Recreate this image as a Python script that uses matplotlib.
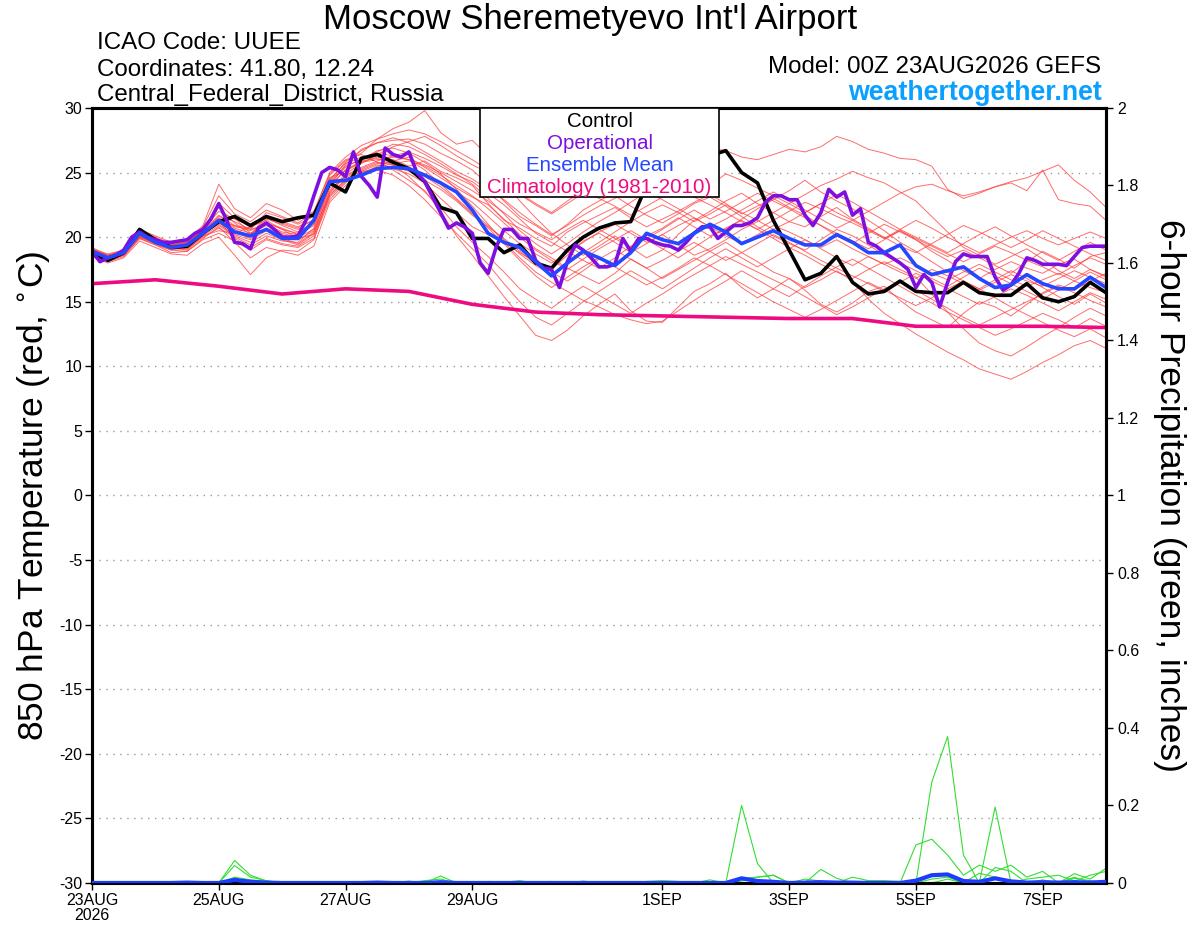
import matplotlib
matplotlib.use("Agg")
import matplotlib.pyplot as plt
from matplotlib.patches import Rectangle
import numpy as np

plt.rcParams["font.family"] = ["Liberation Sans", "DejaVu Sans"]
plt.rcParams["axes.unicode_minus"] = False

# ---- data: 6-hourly steps from 00Z 23AUG2026 (65 steps, 16 days) ----
tick_steps = [0, 8, 16, 24, 36, 44, 52, 60]
tick_labels = ["23AUG\n2026", "25AUG", "27AUG", "29AUG", "1SEP", "3SEP", "5SEP", "7SEP"]

control = [18.8, 18.2, 18.8, 20.6, 19.8, 19.2, 19.3, 20.3, 21.2, 21.6, 20.9, 21.6,
           21.2, 21.5, 21.7, 24.2, 23.5, 26.1, 26.4, 25.8, 25.3, 24.3, 22.3, 21.9,
           19.9, 19.9, 18.8, 19.4, 18.0, 17.6, 19.0, 20.0, 20.7, 21.1, 21.2, 24.0,
           25.0, 25.5, 26.0, 26.3, 26.7, 25.0, 24.2, 21.3, 19.0, 16.7, 17.2, 18.5,
           16.5, 15.6, 15.8, 16.6, 15.8, 15.7, 15.7, 16.5, 15.7, 15.5, 15.5, 16.4,
           15.3, 15.0, 15.4, 16.5, 15.7]

ens_mean = [18.9, 18.4, 18.8, 20.3, 19.6, 19.2, 19.4, 20.3, 21.3, 20.4, 20.1, 20.6,
            19.9, 19.9, 21.3, 24.3, 24.4, 24.8, 25.3, 25.4, 25.3, 24.8, 24.2, 23.5,
            22.1, 20.3, 19.6, 19.2, 18.1, 17.0, 18.0, 18.9, 18.4, 17.8, 18.8, 20.3,
            19.8, 19.5, 20.3, 21.0, 20.4, 19.5, 20.0, 20.5, 19.9, 19.4, 19.4, 20.2,
            19.6, 18.8, 18.8, 19.4, 17.8, 17.1, 17.4, 17.7, 16.8, 16.1, 16.3, 17.1,
            16.4, 16.0, 16.0, 16.9, 16.1]

# operational run is 3-hourly (129 points)
operational = [18.9, 18.1, 18.4, 18.6, 19.0, 20.0, 20.4, 20.0, 19.8, 19.6, 19.6, 19.7,
               19.8, 20.3, 20.6, 21.4, 22.6, 21.3, 19.6, 19.5, 19.1, 20.7, 21.1, 20.6,
               20.0, 20.0, 20.1, 21.3, 23.2, 25.0, 25.4, 25.2, 24.7, 26.6, 24.7, 24.0,
               23.1, 26.9, 26.4, 26.2, 26.6, 25.0, 24.3, 23.1, 21.9, 20.7, 21.1, 20.8,
               20.3, 18.0, 17.2, 19.2, 20.6, 20.6, 19.9, 19.9, 18.2, 17.6, 17.5, 16.1,
               18.1, 19.4, 19.0, 18.4, 17.7, 17.7, 17.9, 19.9, 18.9, 19.9, 19.9, 19.6,
               19.4, 19.3, 19.0, 19.6, 20.3, 20.8, 20.8, 19.9, 20.4, 20.9, 20.9, 21.1,
               21.5, 22.7, 23.2, 23.2, 22.9, 22.9, 21.7, 20.9, 21.9, 23.7, 23.1, 23.5,
               21.7, 22.2, 19.6, 19.3, 18.8, 18.4, 18.0, 17.5, 16.1, 17.1, 16.5, 14.6,
               16.5, 18.1, 18.7, 18.5, 18.5, 18.5, 16.9, 15.9, 16.3, 17.2, 18.4, 18.2,
               17.9, 17.9, 17.9, 17.8, 18.5, 19.2, 19.3, 19.3, 19.3]

# climatology, one value per day
clim_steps = [0, 4, 8, 12, 16, 20, 24, 28, 32, 36, 40, 44, 48, 52, 56, 60, 64]
climatology = [16.4, 16.7, 16.2, 15.6, 16.0, 15.8, 14.8, 14.2, 14.0, 13.9, 13.8,
               13.7, 13.7, 13.1, 13.1, 13.1, 13.0]

members = [
    [18.9, 18.4, 18.7, 20.1, 19.5, 19.0, 19.3, 20.4, 21.6, 21.2, 20.6, 21.0, 20.4, 20.2, 20.9, 24.0,
     25.6, 26.8, 27.3, 27.5, 27.6, 27.2, 26.5, 25.9, 25.2, 24.1, 22.8, 21.6, 20.9, 20.1, 21.0, 22.1,
     22.8, 23.5, 24.0, 24.6, 25.1, 25.6, 26.3, 26.9, 26.7, 26.2, 26.0, 26.4, 26.8, 26.6, 27.0, 27.8,
     27.4, 26.8, 26.5, 26.1, 26.0, 25.5, 23.7, 23.0, 23.4, 23.9, 24.2, 23.6, 25.2, 22.9, 22.6, 22.4, 21.3],
    [19.2, 18.6, 18.9, 20.5, 19.9, 19.4, 19.6, 20.6, 22.3, 21.1, 20.2, 21.4, 21.0, 20.6, 21.4, 24.8,
     25.9, 26.5, 27.6, 28.4, 28.9, 29.8, 28.1, 27.2, 27.5, 26.3, 24.4, 22.8, 21.5, 20.3, 19.4, 18.6,
     19.3, 20.1, 19.2, 18.4, 19.0, 20.2, 21.3, 22.0, 22.8, 23.4, 22.6, 21.9, 21.2, 20.8, 21.6, 22.3,
     21.4, 20.7, 19.9, 20.5, 19.8, 18.9, 18.2, 17.4, 16.8, 17.5, 18.1, 17.6, 17.2, 17.9, 18.3, 17.5, 17.0],
    [18.6, 18.1, 18.5, 19.9, 19.4, 18.8, 18.9, 19.9, 20.8, 19.6, 18.4, 19.2, 18.9, 18.6, 19.3, 22.7,
     24.0, 25.1, 25.6, 25.2, 24.4, 23.6, 22.0, 20.1, 18.6, 17.0, 15.4, 13.9, 12.4, 12.0, 12.8, 13.9,
     14.8, 15.6, 14.3, 13.5, 13.4, 14.6, 15.8, 16.4, 17.2, 16.1, 15.3, 16.0, 16.8, 15.9, 14.8, 14.2,
     14.9, 15.8, 16.2, 15.1, 14.2, 13.6, 13.0, 14.1, 15.0, 14.6, 13.9, 14.8, 15.7, 16.3, 15.9, 16.6, 17.2],
    [19.0, 18.5, 18.9, 20.4, 19.8, 19.5, 19.6, 20.5, 21.2, 20.9, 20.7, 21.6, 21.1, 20.7, 21.8, 24.6,
     25.1, 25.8, 26.2, 26.0, 25.5, 25.9, 25.1, 24.6, 24.0, 22.6, 21.3, 20.7, 19.9, 19.3, 20.4, 21.1,
     21.7, 22.3, 21.5, 20.8, 21.4, 22.0, 22.7, 23.3, 22.6, 21.8, 22.4, 23.0, 22.3, 21.7, 20.9, 20.1,
     19.5, 20.3, 21.0, 20.4, 19.8, 19.1, 18.5, 19.0, 18.4, 17.8, 17.2, 18.1, 18.9, 18.3, 17.6, 18.5, 18.8],
    [18.7, 18.3, 18.8, 20.0, 19.6, 19.2, 19.0, 20.1, 20.5, 20.3, 20.8, 21.3, 20.6, 19.9, 20.2, 23.1,
     24.3, 24.9, 25.5, 25.9, 26.2, 25.4, 24.6, 23.8, 23.1, 22.5, 21.4, 20.2, 19.1, 18.4, 17.6, 17.0,
     16.4, 17.2, 18.3, 17.6, 16.8, 17.5, 18.2, 18.9, 19.6, 18.8, 18.1, 17.3, 16.8, 16.1, 16.7, 17.4,
     16.6, 15.2, 14.1, 13.3, 12.5, 11.8, 11.1, 10.5, 9.8, 9.4, 9.0, 9.6, 10.3, 10.9, 11.6, 12.0, 11.4],
    [19.1, 18.7, 19.0, 20.6, 20.1, 19.6, 19.8, 20.9, 24.1, 22.2, 21.5, 22.6, 22.1, 21.3, 22.0, 24.9,
     26.0, 26.4, 25.8, 25.3, 24.9, 24.2, 23.0, 21.9, 20.8, 20.2, 19.6, 18.8, 18.1, 17.5, 18.6, 19.7,
     20.3, 19.6, 18.8, 19.5, 20.2, 19.4, 18.6, 19.1, 19.8, 20.6, 21.2, 21.9, 22.6, 23.3, 24.0, 24.5,
     25.1, 24.6, 24.2, 23.5, 22.8, 21.6, 20.4, 19.2, 18.6, 17.9, 18.5, 19.1, 18.3, 17.4, 16.8, 17.5, 16.9],
    [18.5, 18.0, 18.4, 19.7, 19.2, 18.7, 18.6, 19.5, 20.0, 18.6, 17.1, 18.4, 19.0, 18.9, 19.8, 23.4,
     24.8, 25.4, 25.9, 26.3, 26.6, 26.1, 25.5, 24.8, 24.3, 23.4, 22.5, 21.4, 20.3, 19.6, 18.9, 18.2,
     17.6, 18.4, 19.3, 20.1, 20.7, 21.5, 20.8, 20.1, 20.6, 21.4, 22.2, 22.9, 23.6, 24.4, 23.5, 22.8,
     22.2, 21.3, 20.5, 19.6, 18.9, 18.1, 17.3, 16.6, 16.0, 16.7, 17.4, 16.8, 16.1, 15.4, 14.8, 15.6, 14.9],
    [18.8, 18.2, 18.6, 20.2, 19.7, 19.3, 19.2, 20.3, 21.0, 20.2, 19.8, 20.5, 19.9, 19.5, 20.4, 23.6,
     24.9, 25.7, 26.4, 27.0, 27.4, 27.8, 27.1, 26.3, 25.6, 25.0, 24.2, 23.3, 22.5, 21.8, 22.6, 23.4,
     24.0, 23.2, 22.4, 21.7, 21.1, 21.8, 22.6, 23.1, 22.4, 21.6, 20.8, 20.1, 19.5, 19.0, 19.8, 20.6,
     20.1, 19.4, 18.6, 18.0, 17.4, 16.8, 16.2, 16.9, 17.6, 17.0, 16.4, 15.8, 15.2, 15.9, 16.6, 17.3, 16.7],
    [18.7, 18.2, 18.6, 20.0, 19.5, 19.1, 19.1, 20.0, 20.7, 20.0, 19.4, 20.1, 19.7, 19.6, 20.7, 23.9,
     25.2, 25.9, 26.1, 25.6, 24.7, 23.5, 22.3, 20.8, 19.6, 18.5, 17.3, 16.0, 15.2, 14.5, 15.4, 16.2,
     15.5, 14.8, 14.1, 14.9, 15.6, 16.4, 17.1, 17.8, 18.5, 17.9, 17.3, 16.7, 16.1, 15.4, 14.7, 14.0,
     14.6, 15.3, 16.0, 16.6, 15.9, 15.2, 14.5, 13.8, 13.2, 13.8, 14.4, 15.0, 15.6, 16.2, 15.7, 15.1, 14.6],
    [18.9, 18.3, 18.8, 20.3, 19.8, 19.3, 19.4, 20.2, 21.3, 20.6, 20.1, 21.7, 21.2, 20.8, 21.3, 24.3,
     25.5, 26.0, 26.7, 26.9, 26.5, 25.8, 24.9, 23.7, 22.4, 21.0, 19.6, 18.4, 17.3, 16.5, 15.8, 15.1,
     14.6, 14.0, 13.6, 13.3, 13.5, 14.3, 15.1, 15.9, 16.6, 17.4, 16.7, 16.0, 15.4, 16.2, 17.0, 17.7,
     18.3, 17.6, 16.9, 16.2, 15.5, 14.9, 14.2, 13.6, 13.0, 12.4, 12.9, 13.5, 14.1, 13.6, 13.0, 13.7, 13.1],
    [19.0, 18.6, 18.9, 20.4, 19.9, 19.4, 19.5, 20.6, 22.0, 21.4, 20.9, 21.5, 20.9, 20.4, 21.1, 24.2,
     25.4, 26.1, 26.6, 27.2, 27.0, 26.4, 25.7, 24.9, 24.1, 23.0, 21.8, 20.5, 19.5, 18.7, 19.5, 20.4,
     21.2, 21.9, 22.7, 23.5, 22.9, 22.2, 21.5, 20.8, 21.4, 22.1, 22.8, 23.5, 22.8, 22.1, 21.4, 20.7,
     21.3, 22.0, 22.7, 23.4, 23.9, 24.1, 23.6, 23.2, 23.5, 23.9, 24.3, 24.6, 25.1, 25.6, 24.4, 23.5, 22.3],
    [18.8, 18.4, 18.7, 20.1, 19.6, 19.2, 19.3, 20.3, 21.4, 20.7, 20.3, 20.9, 20.3, 20.0, 20.6, 23.8,
     24.6, 25.2, 25.7, 25.8, 25.4, 24.9, 24.3, 23.5, 22.7, 21.6, 20.5, 19.5, 18.7, 18.0, 18.8, 19.6,
     20.4, 21.0, 20.3, 19.6, 20.2, 20.9, 21.5, 20.8, 20.1, 19.5, 20.2, 20.9, 20.4, 19.8, 19.2, 19.8,
     19.1, 18.5, 17.9, 18.4, 17.8, 17.2, 16.7, 17.3, 17.9, 17.3, 16.7, 16.2, 16.7, 17.2, 16.6, 16.1, 15.7],
    [18.6, 18.2, 18.6, 19.9, 19.4, 19.0, 18.9, 19.8, 20.3, 19.7, 19.0, 19.8, 19.4, 19.2, 19.9, 22.9,
     24.2, 25.0, 25.4, 25.7, 25.9, 25.5, 24.8, 24.0, 23.2, 22.2, 21.1, 20.0, 19.0, 18.2, 17.5, 18.3,
     19.1, 19.8, 20.5, 19.8, 19.1, 18.4, 19.2, 20.0, 20.7, 21.3, 20.6, 19.9, 19.2, 18.6, 17.9, 17.3,
     16.8, 17.5, 18.1, 17.5, 16.9, 15.6, 14.2, 12.9, 11.8, 11.2, 10.8, 11.5, 12.3, 13.0, 13.8, 14.5, 13.9],
    [19.1, 18.5, 18.9, 20.4, 19.8, 19.4, 19.6, 20.5, 21.7, 20.9, 20.5, 21.1, 20.6, 20.3, 21.2, 24.4,
     25.8, 26.7, 27.3, 27.7, 27.3, 26.6, 25.9, 25.1, 24.5, 23.7, 22.9, 21.9, 21.0, 20.2, 20.9, 21.7,
     22.4, 23.0, 23.7, 24.2, 24.8, 25.1, 24.6, 24.0, 24.9, 24.4, 23.8, 23.2, 22.6, 21.9, 22.6, 23.3,
     22.7, 22.0, 21.3, 20.6, 20.0, 19.4, 18.8, 19.5, 20.2, 20.8, 20.1, 19.4, 18.8, 18.2, 18.9, 19.6, 19.0],
    [18.8, 18.3, 18.7, 20.2, 19.6, 19.2, 19.3, 20.2, 21.1, 20.4, 19.9, 20.7, 20.2, 19.8, 20.5, 23.3,
     24.4, 24.8, 25.3, 25.5, 25.1, 24.4, 23.7, 22.8, 21.7, 20.8, 19.9, 18.9, 17.9, 17.3, 16.6, 17.4,
     18.3, 19.0, 18.3, 17.6, 18.2, 18.9, 19.6, 18.9, 18.2, 18.8, 19.5, 20.2, 19.6, 18.9, 18.2, 17.6,
     17.0, 16.4, 15.8, 16.5, 17.2, 16.6, 16.0, 15.4, 14.8, 15.4, 16.0, 15.5, 14.9, 14.3, 15.0, 15.7, 15.2],
    [18.9, 18.4, 18.8, 20.3, 19.7, 19.2, 19.4, 20.6, 22.6, 21.5, 20.3, 21.1, 20.7, 20.2, 21.0, 24.0,
     25.2, 25.8, 26.0, 26.2, 26.0, 25.6, 25.0, 24.3, 23.6, 22.8, 21.9, 21.0, 20.4, 19.8, 20.6, 21.3,
     20.6, 19.9, 19.2, 19.9, 20.6, 21.4, 22.1, 21.4, 22.0, 22.7, 23.4, 22.8, 22.2, 21.5, 20.9, 20.3,
     19.7, 19.1, 19.8, 20.5, 19.9, 19.3, 18.7, 18.1, 18.7, 19.3, 18.8, 18.2, 17.7, 17.1, 17.8, 18.4, 17.9],
    [18.7, 18.2, 18.7, 20.0, 19.5, 19.1, 19.1, 20.1, 20.9, 20.1, 19.6, 20.3, 19.8, 19.4, 20.3, 23.5,
     24.7, 25.3, 25.8, 25.6, 25.2, 24.7, 23.9, 22.9, 21.8, 20.7, 19.5, 18.2, 17.0, 16.1, 16.9, 17.7,
     18.4, 17.7, 17.0, 16.3, 16.9, 17.6, 18.4, 17.8, 17.1, 16.4, 15.7, 15.0, 14.4, 13.8, 14.4, 15.1,
     15.8, 16.5, 15.9, 15.3, 14.7, 15.3, 16.0, 16.6, 16.0, 15.3, 14.6, 14.0, 13.4, 12.8, 12.3, 12.9, 12.2],
    [19.0, 18.5, 18.8, 20.3, 19.7, 19.4, 19.5, 20.4, 21.5, 20.8, 20.6, 21.9, 21.5, 21.0, 21.6, 24.5,
     25.7, 26.2, 26.5, 26.3, 26.0, 25.2, 24.1, 23.0, 21.9, 20.9, 19.8, 18.7, 17.8, 17.1, 17.9, 18.8,
     19.6, 20.4, 21.2, 21.9, 22.5, 21.9, 21.2, 21.8, 22.5, 21.9, 21.3, 20.6, 21.2, 21.9, 22.6, 21.9,
     21.3, 20.6, 20.0, 19.3, 18.8, 19.5, 20.2, 20.9, 20.4, 19.8, 19.2, 19.8, 20.5, 19.9, 19.3, 18.7, 18.2],
    [18.8, 18.3, 18.6, 20.1, 19.6, 19.1, 19.2, 20.2, 21.2, 19.9, 19.2, 19.9, 19.5, 19.3, 20.1, 23.2,
     24.5, 25.1, 25.2, 24.8, 24.0, 22.9, 21.6, 20.3, 19.1, 17.9, 16.4, 15.0, 13.8, 13.2, 14.1, 15.0,
     15.8, 16.6, 17.4, 16.7, 16.0, 16.8, 17.6, 18.4, 19.1, 18.4, 17.7, 18.4, 19.1, 19.8, 19.1, 18.4,
     17.8, 18.5, 17.9, 17.3, 16.8, 17.5, 17.0, 16.4, 15.9, 16.5, 17.1, 16.6, 16.2, 16.8, 17.4, 16.9, 16.4],
    [19.0, 18.6, 19.0, 20.5, 20.0, 19.5, 19.7, 20.8, 23.2, 21.8, 21.2, 22.1, 21.6, 21.1, 21.9, 25.0,
     26.2, 27.1, 27.6, 28.0, 28.3, 28.0, 27.4, 26.7, 26.0, 25.2, 24.3, 23.4, 22.6, 21.9, 22.8, 23.6,
     23.0, 22.4, 21.7, 22.4, 23.1, 23.7, 23.1, 22.5, 21.9, 21.2, 20.6, 21.3, 22.0, 22.7, 22.2, 21.6,
     21.1, 20.5, 19.9, 20.6, 21.3, 20.7, 20.0, 19.4, 18.8, 19.4, 20.0, 20.5, 19.9, 19.4, 19.9, 20.4, 19.9],
]

# 6-hour precipitation (inches); members that show any rain
precip_members = [
    [0, 0, 0, 0, 0, 0, 0, 0, 0, 0.058, 0.02, 0.005, 0, 0, 0, 0,
     0, 0, 0, 0, 0, 0, 0, 0, 0, 0, 0, 0, 0, 0, 0, 0,
     0, 0, 0, 0, 0, 0, 0, 0, 0, 0.20, 0.05, 0, 0, 0, 0, 0,
     0, 0, 0, 0, 0, 0, 0, 0, 0, 0, 0, 0, 0, 0, 0, 0, 0],
    [0, 0, 0, 0, 0, 0, 0.003, 0, 0, 0.045, 0.015, 0.006, 0, 0, 0, 0,
     0, 0, 0.002, 0, 0, 0, 0.018, 0, 0, 0, 0, 0, 0, 0, 0, 0,
     0, 0, 0, 0, 0, 0, 0, 0, 0, 0, 0, 0, 0, 0, 0, 0,
     0, 0, 0, 0, 0, 0.26, 0.378, 0.072, 0, 0, 0, 0, 0, 0, 0, 0, 0],
    [0, 0, 0, 0, 0, 0, 0, 0, 0, 0.015, 0.008, 0.004, 0, 0, 0, 0,
     0, 0, 0, 0, 0.005, 0, 0, 0, 0, 0, 0, 0, 0, 0.004, 0, 0.005,
     0, 0, 0, 0, 0, 0, 0, 0, 0, 0.012, 0.015, 0.02, 0, 0, 0.035, 0.012,
     0, 0, 0, 0, 0.098, 0.113, 0.072, 0.02, 0.046, 0.03, 0.046, 0.015, 0.03, 0, 0.024, 0.01, 0.038],
    [0, 0, 0, 0, 0, 0, 0, 0, 0, 0, 0, 0, 0, 0, 0, 0,
     0, 0, 0, 0, 0, 0, 0, 0, 0, 0, 0, 0, 0, 0, 0, 0,
     0, 0, 0, 0, 0, 0, 0, 0, 0, 0, 0, 0, 0, 0, 0, 0,
     0, 0, 0, 0, 0, 0, 0.01, 0, 0, 0.196, 0, 0, 0.008, 0, 0.012, 0.006, 0],
    [0, 0, 0, 0, 0, 0, 0, 0.002, 0, 0.01, 0.003, 0, 0, 0, 0, 0,
     0, 0, 0, 0, 0, 0.006, 0.01, 0, 0, 0.004, 0.002, 0.006, 0, 0, 0, 0,
     0, 0, 0, 0.004, 0.006, 0.004, 0, 0, 0, 0.005, 0.015, 0.02, 0, 0.01, 0.005, 0,
     0.015, 0.006, 0.006, 0.004, 0, 0, 0, 0, 0.025, 0.015, 0, 0.01, 0.015, 0.02, 0.005, 0.02, 0.03],
    [0, 0, 0, 0, 0, 0.002, 0.003, 0, 0, 0.004, 0.002, 0, 0, 0, 0, 0,
     0, 0, 0.003, 0, 0, 0, 0.004, 0, 0, 0, 0.003, 0, 0, 0, 0, 0,
     0, 0, 0, 0, 0, 0, 0, 0.008, 0, 0, 0, 0, 0, 0, 0, 0,
     0, 0.004, 0.003, 0, 0, 0.01, 0.015, 0, 0, 0.04, 0.03, 0, 0.004, 0, 0.015, 0, 0],
]
precip_mean = [0, 0, 0, 0, 0, 0, 0.001, 0, 0, 0.008, 0.003, 0.001, 0, 0, 0, 0,
               0, 0, 0.001, 0, 0, 0, 0.002, 0, 0, 0, 0, 0, 0, 0, 0, 0,
               0, 0, 0, 0, 0, 0, 0, 0, 0, 0.012, 0.005, 0.003, 0, 0.001, 0.002, 0.001,
               0.001, 0, 0, 0, 0.006, 0.02, 0.022, 0.005, 0.003, 0.012, 0.004, 0.001,
               0.002, 0.001, 0.002, 0.001, 0.003]

steps = np.arange(len(control))
op_steps = np.arange(len(operational)) / 2.0

fig = plt.figure(figsize=(12, 9.27), dpi=100)
ax = fig.add_axes([0.0767, 0.0475, 0.845, 0.836])

for m in members:
    ax.plot(steps, m, color="#ff3b3b", lw=0.7, alpha=0.75, zorder=2)
ax.plot(clim_steps, climatology, color="#ee0a80", lw=2.6, zorder=3)
ax.plot(steps, control, color="black", lw=2.6, zorder=4)
ax.plot(op_steps, operational, color="#7f0fdf", lw=2.6, zorder=5)
ax.plot(steps, ens_mean, color="#2447ff", lw=2.6, zorder=6)

ax.set_xlim(0, 64)
ax.set_ylim(-30, 30)
ax.set_yticks(np.arange(-30, 31, 5))
ax.yaxis.grid(True, linestyle=(0, (1, 4)), color="#999999", lw=1.0)
ax.set_xticks(tick_steps)
ax.set_xticklabels(tick_labels, fontsize=11.5, linespacing=1.05)
ax.tick_params(axis="both", labelsize=11.5, length=5, width=1, direction="out", pad=2)
for s in ax.spines.values():
    s.set_linewidth(2.2)
ax.set_ylabel("850 hPa Temperature (red, $^{\\circ}$C)", fontsize=25.5, va="center")
ax.yaxis.set_label_coords(-0.058, 0.5)

ax2 = ax.twinx()
for p in precip_members:
    ax2.plot(steps, p, color="#33dd33", lw=0.8, zorder=2)
ax2.plot(steps, precip_mean, color="#1a3cff", lw=3.0, zorder=3)
ax2.set_ylim(0, 2)
ax2.set_yticks(np.arange(0, 2.01, 0.2))
ax2.set_yticklabels(["0", "0.2", "0.4", "0.6", "0.8", "1", "1.2", "1.4", "1.6", "1.8", "2"])
ax2.tick_params(axis="y", labelsize=11.5, length=5, width=1, pad=3)
for s in ax2.spines.values():
    s.set_linewidth(2.2)
ax2.set_ylabel("6-hour Precipitation (green, inches)", fontsize=25.5, rotation=270, va="center")
ax2.yaxis.set_label_coords(1.063, 0.5)

# legend box
ax2.add_patch(Rectangle((0.3826, 0.885), 0.2357, 0.115, transform=ax2.transAxes,
                        facecolor="white", edgecolor="black", lw=1.2, zorder=10))
leg_items = [("Control", "black"), ("Operational", "#7f0fdf"),
             ("Ensemble Mean", "#2447ff"), ("Climatology (1981-2010)", "#ee0a80")]
for k, (txt, col) in enumerate(leg_items):
    ax2.text(0.5005, 0.982 - k * 0.0283, txt, transform=ax2.transAxes, color=col,
             fontsize=14.8, ha="center", va="center", zorder=11)

# header
fig.text(0.492, 0.979, "Moscow Sheremetyevo Int'l Airport", fontsize=25, ha="center", va="center")
fig.text(0.081, 0.954, "ICAO Code: UUEE", fontsize=17.4, ha="left", va="center")
fig.text(0.081, 0.925, "Coordinates: 41.80, 12.24", fontsize=17.4, ha="left", va="center")
fig.text(0.081, 0.897, "Central_Federal_District, Russia", fontsize=17.4, ha="left", va="center")
fig.text(0.918, 0.928, "Model: 00Z 23AUG2026 GEFS", fontsize=17.4, ha="right", va="center")
fig.text(0.918, 0.900, "weathertogether.net", fontsize=19.3, fontweight="bold",
         color="#0aa0ff", ha="right", va="center")

fig.savefig("out.png", dpi=100)
